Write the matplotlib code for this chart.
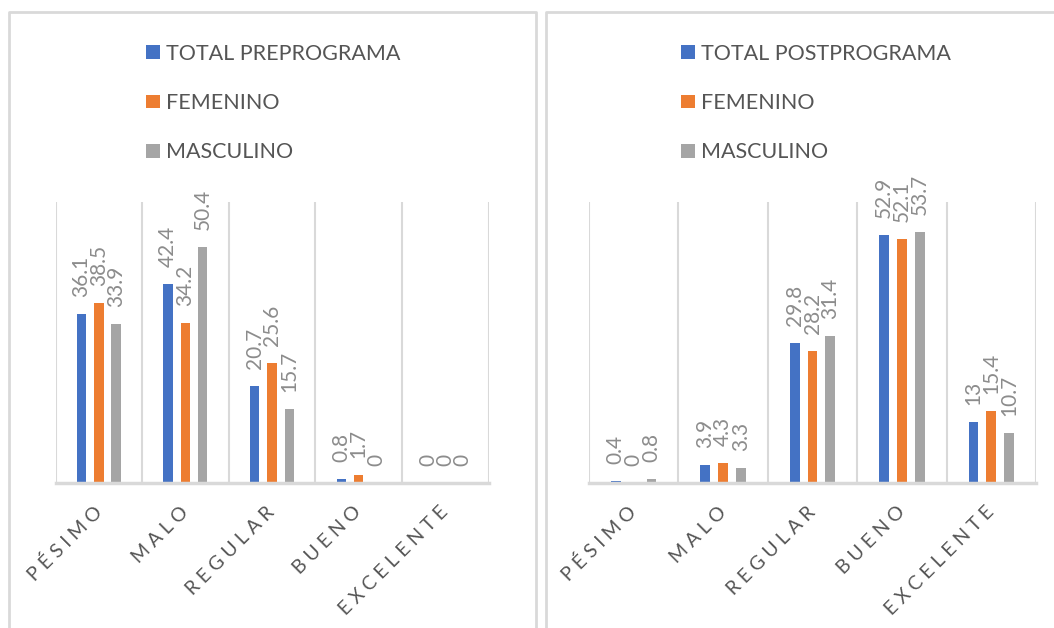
import matplotlib.pyplot as plt
import numpy as np
from matplotlib.patches import Patch
from matplotlib.lines import Line2D

# categories and series values
categories = ["PÉSIMO", "MALO", "REGULAR", "BUENO", "EXCELENTE"]
series_names_pre = ["TOTAL PREPROGRAMA", "FEMENINO", "MASCULINO"]
series_names_post = ["TOTAL POSTPROGRAMA", "FEMENINO", "MASCULINO"]

total_pre = [36.1, 42.4, 20.7, 0.8, 0]
fem_pre = [38.5, 34.2, 25.6, 1.7, 0]
masc_pre = [33.9, 50.4, 15.7, 0, 0]

total_post = [0.4, 3.9, 29.8, 52.9, 13]
fem_post = [0, 4.3, 28.2, 52.1, 15.4]
masc_post = [0.8, 3.3, 31.4, 53.7, 10.7]

colors = ["#4472C4", "#ED7D31", "#A5A5A5"]
grid_color = "#d9d9d9"
label_color = "#8c8c8c"
text_color = "#555555"

W, H = 1054, 628
fig = plt.figure(figsize=(W / 100, H / 100), dpi=100)


def fx(px):
    return px / W


def fy(py):
    return 1 - py / H


def spaced(s):
    # Excel draws these labels with wide letter spacing
    return "\u2005".join(s)


def draw_panel(ax, series, names, legend_x):
    x = np.arange(len(categories))
    width = 0.11
    offsets = [-0.2, 0.0, 0.2]
    for vals, off, col in zip(series, offsets, colors):
        ax.bar(x + off, vals, width=width, color=col, zorder=2)
        for xi, v in zip(x, vals):
            ax.annotate(f"{v:g}", xy=(xi + off, v), xytext=(0, 17),
                        textcoords="offset pixels", rotation=90,
                        ha="center", va="bottom", fontsize=15,
                        color=label_color, family="Lato", annotation_clip=False)

    ax.set_xlim(-0.5, len(categories) - 0.5)
    ax.set_ylim(0, 60)
    for b in np.arange(-0.5, len(categories), 1.0):
        ax.axvline(b, color=grid_color, lw=1.5, zorder=1)
    for s in ["top", "right", "left"]:
        ax.spines[s].set_visible(False)
    ax.spines["bottom"].set_color(grid_color)
    ax.spines["bottom"].set_linewidth(2.5)
    ax.spines["bottom"].set_zorder(4)
    ax.set_yticks([])
    ax.set_xticks(x)
    ax.set_xticklabels([spaced(c) for c in categories], rotation=45,
                       ha="right", va="center", rotation_mode="anchor",
                       fontsize=14, color=text_color,
                       family=["Lato", "DejaVu Sans"])
    ax.tick_params(axis="x", length=0, pad=19)

    handles = [Patch(facecolor=c, edgecolor="none") for c in colors]
    fig.legend(handles, names, loc="upper left",
               bbox_to_anchor=(fx(legend_x), fy(44)),
               frameon=False, borderpad=0, borderaxespad=0,
               handlelength=0.65, handleheight=0.62, handletextpad=0.3,
               labelspacing=1.35, prop={"family": "Lato", "size": 15.5},
               labelcolor=text_color)


ax1 = fig.add_axes([fx(55.5), fy(483), fx(433), 281 / H])
draw_panel(ax1, [total_pre, fem_pre, masc_pre], series_names_pre, 146)

ax2 = fig.add_axes([fx(589), fy(483), fx(447), 281 / H])
draw_panel(ax2, [total_post, fem_post, masc_post], series_names_post, 681)

# panel borders
border = dict(color=grid_color, lw=2, transform=fig.transFigure)
fig.lines.append(Line2D([fx(9), fx(9), fx(536), fx(536)],
                        [0, fy(12), fy(12), 0], **border))
fig.lines.append(Line2D([fx(546), fx(546), 1.0],
                        [0, fy(12), fy(12)], **border))

plt.savefig("out.png", dpi=100)
